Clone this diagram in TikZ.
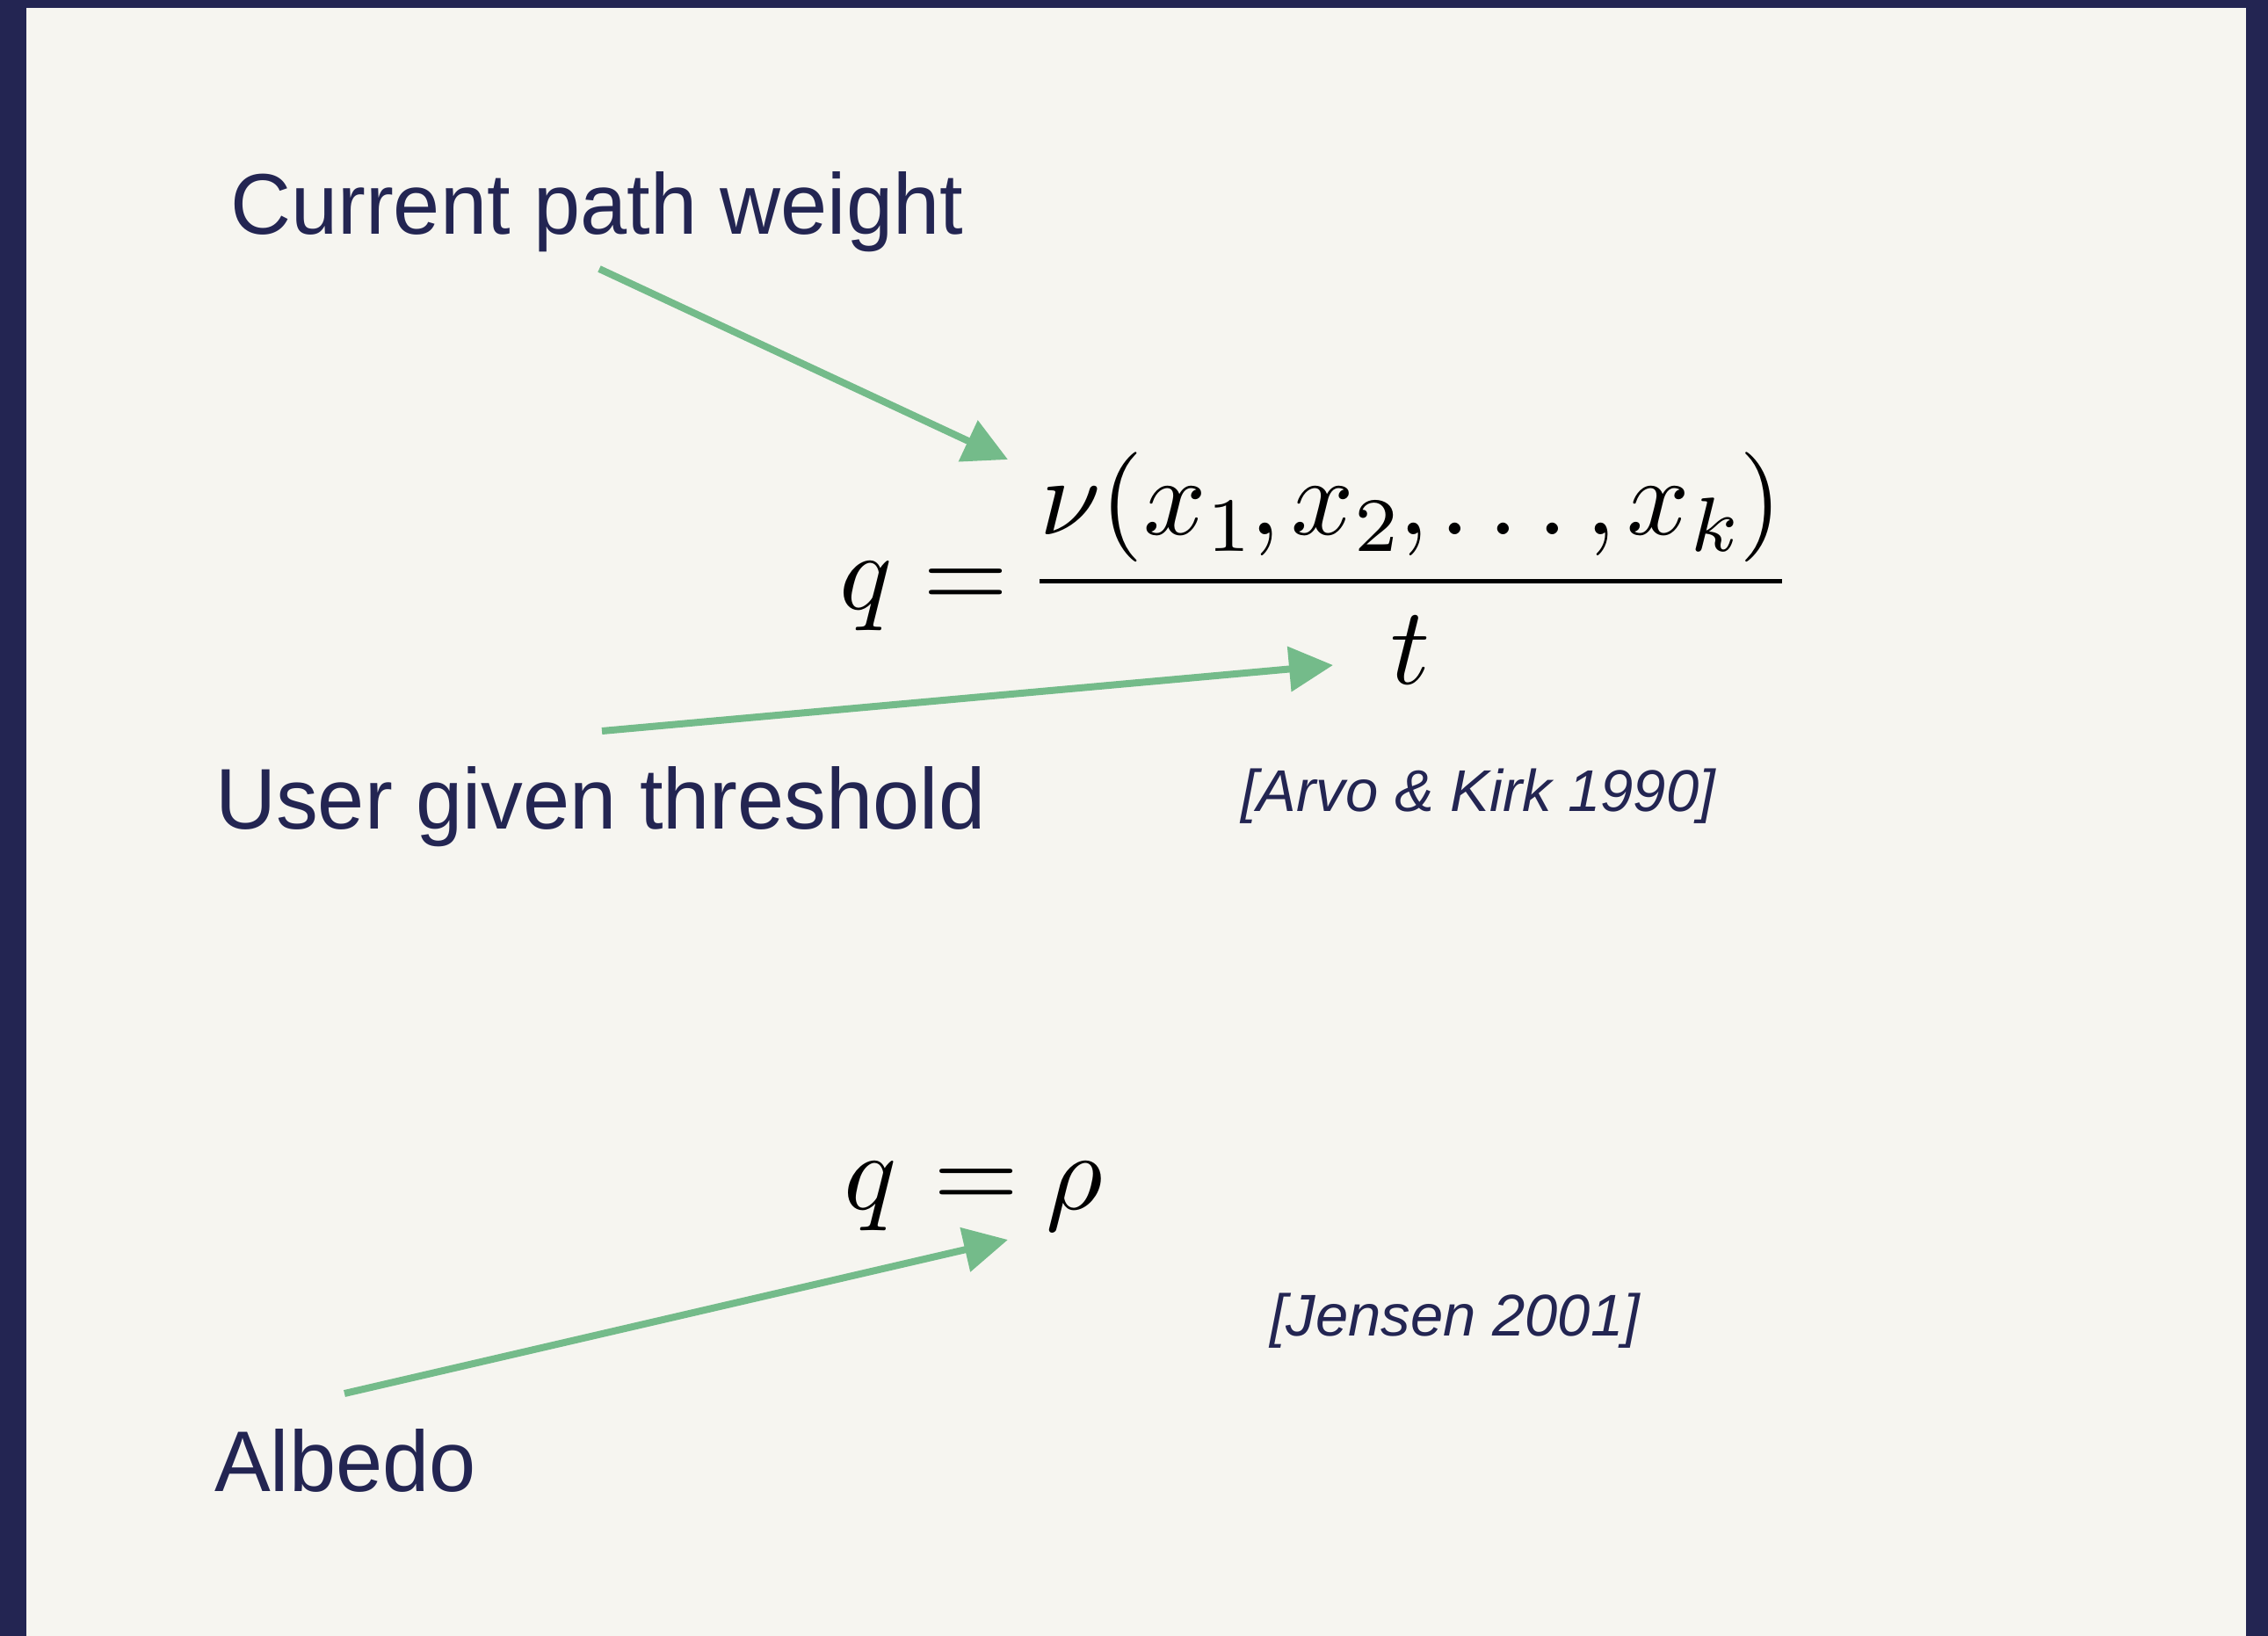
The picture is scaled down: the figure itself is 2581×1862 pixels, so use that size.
\documentclass[tikz,border=0pt]{standalone}
\usepackage{fontspec}
\setmainfont{Liberation Sans}
\usetikzlibrary{arrows.meta}
\definecolor{navy}{HTML}{232552}
\definecolor{paper}{HTML}{F6F5F0}
\definecolor{leaf}{HTML}{74BB8A}
\tikzset{
  label/.style={anchor=base west, inner sep=0pt, text=navy, font=\fontsize{98}{118}\selectfont},
  cite/.style={anchor=base west, inner sep=0pt, text=navy, font=\fontsize{67}{80}\selectfont\itshape},
  formula/.style={anchor=base west, inner sep=0pt, text=black},
  pointer/.style={draw=leaf, line width=8pt, -{Triangle[length=50pt,width=50pt]}, fill=leaf}
}
\begin{document}
\begin{tikzpicture}[x=1pt,y=-1pt]
\fill[navy] (0,0) rectangle (2581,1862);
\fill[paper] (30,9) rectangle (2556,1862);
\useasboundingbox (0,0) rectangle (2581,1862);

\node[label] (cpw) at (262,267) {\scalebox{0.975}[1]{Current path weight}};
\node[label] (ugt) at (245,943) {\scalebox{0.975}[1]{User given threshold}};
\node[label] (alb) at (244,1697) {\scalebox{0.975}[1]{Albedo}};

\node[formula] (f1) at (955,693) {\scalebox{12.5}{\scriptspace=0pt$\displaystyle q = \mkern-2mu\frac{\nu(x_1,\mkern-1.2mu x_2,\mkern-1.2mu \ldots,\mkern-1.2mu x_k)}{t}$}};
\node[formula] (f2) at (960,1376) {\scalebox{12.5}{$q\mkern1mu = \mkern-0.5mu\rho$}};

\node[cite] (c1) at (1412,923) {[Arvo \& Kirk 1990]};
\node[cite] (c2) at (1445,1520) {[Jensen 2001]};

\coordinate (t1) at (682,306);
\coordinate (h1) at (1147,523);
\coordinate (t2) at (685,832);
\coordinate (h2) at (1517,757);
\coordinate (t3) at (392,1586);
\coordinate (h3) at (1147,1411);

\draw[pointer] (t1) -- (h1);
\draw[pointer] (t2) -- (h2);
\draw[pointer] (t3) -- (h3);
\end{tikzpicture}
\end{document}
